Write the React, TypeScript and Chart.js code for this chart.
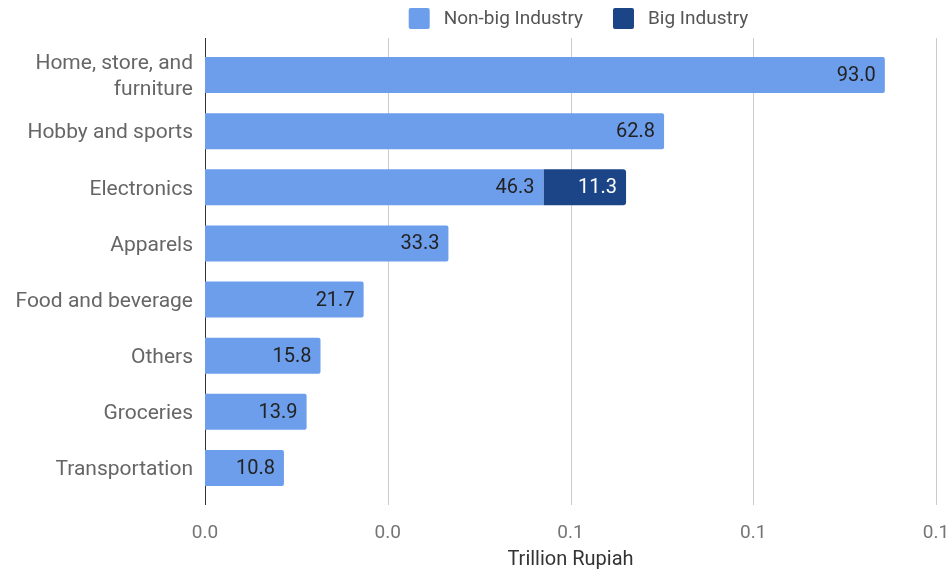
import React, { useEffect, useRef } from "react";
import { Chart, registerables } from "chart.js";

Chart.register(...registerables);

const categories: (string | string[])[] = [
  ["Home, store, and", "furniture"],
  "Hobby and sports",
  "Electronics",
  "Apparels",
  "Food and beverage",
  "Others",
  "Groceries",
  "Transportation",
];
// values in billion Rupiah (shown on bars); axis is in trillion Rupiah
const nonBigIndustry = [93.0, 62.8, 46.3, 33.3, 21.7, 15.8, 13.9, 10.8];
const bigIndustry = [0, 0, 11.3, 0, 0, 0, 0, 0];
const seriesNames = ["Non-big Industry", "Big Industry"];
const xTickStep = 0.025;
const xMax = 0.1;
const axisTitle = "Trillion Rupiah";

const LIGHT = "#6d9eeb";
const DARK = "#1c4587";
const COLORS = [LIGHT, DARK];

const gridPlugin = {
  id: "extGrid",
  beforeDatasetsDraw(chart: any) {
    const { ctx, chartArea, scales } = chart;
    const x = scales.x;
    ctx.save();
    ctx.lineWidth = 1;
    x.ticks.forEach((t: any, i: number) => {
      const px = Math.round(x.getPixelForValue(t.value)) + 0.5;
      ctx.strokeStyle = i === 0 ? "#333333" : "#cccccc";
      ctx.beginPath();
      ctx.moveTo(px, chartArea.top - 9);
      ctx.lineTo(px, chartArea.bottom + 9);
      ctx.stroke();
    });
    ctx.restore();
  },
};

const labelPlugin = {
  id: "barLabels",
  afterDatasetsDraw(chart: any) {
    const { ctx } = chart;
    ctx.save();
    ctx.font = "20px Roboto";
    ctx.textAlign = "right";
    ctx.textBaseline = "middle";
    chart.data.datasets.forEach((ds: any, di: number) => {
      const meta = chart.getDatasetMeta(di);
      const raw = di === 0 ? nonBigIndustry : bigIndustry;
      meta.data.forEach((bar: any, i: number) => {
        if (!raw[i]) return;
        ctx.fillStyle = di === 0 ? "#222222" : "#ffffff";
        ctx.fillText(raw[i].toFixed(1), bar.x - 9, bar.y + 1);
      });
    });
    ctx.restore();
  },
};

const legendPlugin = {
  id: "topLegend",
  afterDraw(chart: any) {
    const { ctx, chartArea } = chart;
    const box = 21;
    const gapText = 14;
    const gapItem = 30;
    ctx.save();
    ctx.font = "19px Roboto";
    ctx.textBaseline = "middle";
    const widths = seriesNames.map((n) => ctx.measureText(n).width);
    const total = widths.reduce((a, w) => a + box + gapText + w, 0) + gapItem * (seriesNames.length - 1);
    let x = (chartArea.left + chartArea.right) / 2 + 8 - total / 2;
    const cy = 18.5;
    seriesNames.forEach((n, i) => {
      ctx.fillStyle = COLORS[i];
      ctx.beginPath();
      (ctx as any).roundRect(x, cy - box / 2, box, box, 2);
      ctx.fill();
      ctx.fillStyle = "#555555";
      ctx.textAlign = "left";
      ctx.fillText(n, x + box + gapText, cy + 1);
      x += box + gapText + widths[i] + gapItem;
    });
    ctx.restore();
  },
};

export default function App() {
  const ref = useRef<HTMLCanvasElement>(null);
  useEffect(() => {
    document.body.style.margin = "0";
    const chart = new Chart(ref.current!, {
      type: "bar",
      data: {
        labels: categories,
        datasets: [
          {
            label: seriesNames[0],
            data: nonBigIndustry.map((v) => v / 1000),
            backgroundColor: LIGHT,
            borderRadius: (c: any) =>
              bigIndustry[c.dataIndex] > 0 ? 0 : { topRight: 2, bottomRight: 2, topLeft: 0, bottomLeft: 0 },
            borderSkipped: "start",
            barPercentage: 0.64,
            categoryPercentage: 1,
          },
          {
            label: seriesNames[1],
            data: bigIndustry.map((v) => v / 1000),
            backgroundColor: DARK,
            borderRadius: { topRight: 3, bottomRight: 3, topLeft: 0, bottomLeft: 0 },
            borderSkipped: false,
            barPercentage: 0.64,
            categoryPercentage: 1,
          },
        ],
      },
      options: {
        indexAxis: "y",
        responsive: false,
        animation: false,
        layout: { autoPadding: false, padding: { top: 47, right: 14, bottom: 0, left: 0 } },
        plugins: {
          legend: { display: false },
          tooltip: { enabled: false },
        },
        scales: {
          x: {
            stacked: true,
            min: 0,
            max: xMax,
            grid: { display: false, drawTicks: false },
            border: { display: false },
            afterFit: (s: any) => {
              s.height = 75;
              s.paddingLeft = 0;
              s.paddingRight = 0;
            },
            ticks: {
              stepSize: xTickStep,
              callback: (v: any) => Number(v).toFixed(1),
              color: "#757575",
              font: { family: "Roboto", size: 19 },
              padding: 26,
              maxRotation: 0,
            },
            title: {
              display: true,
              text: axisTitle,
              color: "#333333",
              font: { family: "Roboto", size: 20 },
              padding: { top: 0, bottom: -1 },
            },
          },
          y: {
            stacked: true,
            grid: { display: false, drawTicks: false },
            border: { display: false },
            afterFit: (s: any) => {
              s.width = 205;
              s.paddingTop = 0;
              s.paddingBottom = 0;
            },
            ticks: {
              color: "#666666",
              font: { family: "Roboto", size: 21, lineHeight: 1.25 },
              padding: 12,
              labelOffset: 2,
            },
          },
        },
      },
      plugins: [gridPlugin, labelPlugin, legendPlugin],
    } as any);
    return () => chart.destroy();
  }, []);
  return <canvas ref={ref} width={950} height={571} style={{ display: "block" }} />;
}
